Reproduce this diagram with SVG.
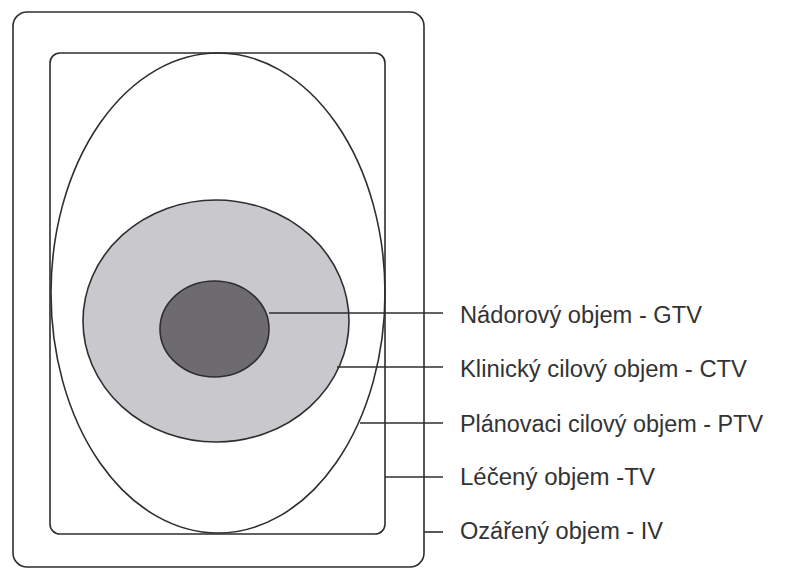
<svg xmlns="http://www.w3.org/2000/svg" width="791" height="571" viewBox="0 0 791 571">
<style>
.ln{fill:none;stroke:#2e2e2e;stroke-width:1.6}
.ctv{fill:#c8c8cd;stroke:#2e2e2e;stroke-width:1.6}
.gtv{fill:#6d6a70;stroke:#2e2e2e;stroke-width:1.6}
.lead{stroke:#2e2e2e;stroke-width:1.6}
.lbl{font-family:"Liberation Sans",Arial,sans-serif;font-size:23px;fill:#333}
</style>
<rect width="791" height="571" fill="#fff"/>
<g id="irradiated-volume"><rect class="ln" x="13" y="12" width="411" height="555" rx="14"/></g>
<g id="treated-volume"><rect class="ln" x="50" y="53" width="335" height="481" rx="10"/></g>
<g id="ptv"><ellipse class="ln" cx="218" cy="293" rx="167" ry="240"/></g>
<g id="ctv"><ellipse class="ctv" cx="216" cy="321" rx="133" ry="121"/></g>
<g id="gtv"><ellipse class="gtv" cx="214.5" cy="329" rx="54.5" ry="48"/></g>
<g id="connectors">
<line class="lead" x1="269" y1="313" x2="443" y2="313"/>
<line class="lead" x1="337" y1="367" x2="443" y2="367"/>
<line class="lead" x1="360" y1="423" x2="443" y2="423"/>
<line class="lead" x1="385" y1="477" x2="443" y2="477"/>
<line class="lead" x1="424" y1="532" x2="443" y2="532"/>
</g>
<g id="labels">
<text class="lbl" x="460" y="323" textLength="242" lengthAdjust="spacingAndGlyphs">Nádorový objem - GTV</text>
<text class="lbl" x="460" y="377" textLength="287" lengthAdjust="spacingAndGlyphs">Klinický cilový objem - CTV</text>
<text class="lbl" x="460" y="432" textLength="303" lengthAdjust="spacingAndGlyphs">Plánovaci cilový objem - PTV</text>
<text class="lbl" x="460" y="485" textLength="195" lengthAdjust="spacingAndGlyphs">Léčený objem -TV</text>
<text class="lbl" x="460" y="539" textLength="203" lengthAdjust="spacingAndGlyphs">Ozářený objem - IV</text>
</g>
</svg>
